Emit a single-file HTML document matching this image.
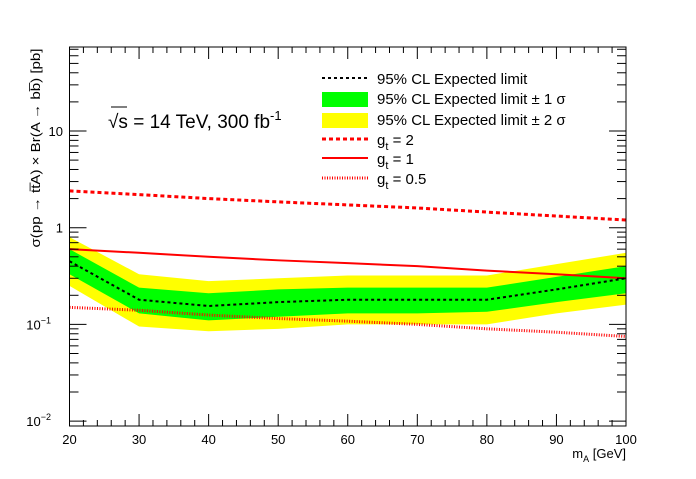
<!DOCTYPE html>
<html><head><meta charset="utf-8"><style>
body{margin:0;background:#fff}
svg text{font-family:"Liberation Sans",sans-serif}
</style></head><body>
<svg id="c" width="696" height="474" xmlns="http://www.w3.org/2000/svg">
<rect width="696" height="474" fill="#fff"/>
<g id="plot"></g>
<g id="axes"></g>
<g font-size="15">
<line x1="322" y1="78" x2="368" y2="78" stroke="#000" stroke-width="2" stroke-dasharray="3,3"/>
<text x="377" y="84">95% CL Expected limit</text>
<rect x="322" y="92" width="46" height="15" fill="#00ff00"/>
<text x="377" y="104">95% CL Expected limit ± 1 σ</text>
<rect x="322" y="113" width="46" height="15" fill="#ffff00"/>
<text x="377" y="125">95% CL Expected limit ± 2 σ</text>
<line x1="322" y1="139" x2="368" y2="139" stroke="#f00" stroke-width="3" stroke-dasharray="4,3"/>
<text x="377" y="145">g<tspan dy="5" font-size="11">t</tspan><tspan dy="-5"> = 2</tspan></text>
<line x1="322" y1="158" x2="368" y2="158" stroke="#f00" stroke-width="2"/>
<text x="377" y="164">g<tspan dy="5" font-size="11">t</tspan><tspan dy="-5"> = 1</tspan></text>
<line x1="322" y1="178" x2="368" y2="178" stroke="#f00" stroke-width="3" stroke-dasharray="1,1.5"/>
<text x="377" y="184">g<tspan dy="5" font-size="11">t</tspan><tspan dy="-5"> = 0.5</tspan></text>
</g>
<text x="108" y="128" font-size="19">√s = 14 TeV, 300 fb<tspan dy="-8" font-size="13">-1</tspan></text>
<line x1="111" y1="107" x2="127" y2="107" stroke="#000" stroke-width="1"/>
<text x="626" y="458" font-size="13" text-anchor="end">m<tspan dy="4" font-size="9">A</tspan><tspan dy="-4"> [GeV]</tspan></text>
<g transform="translate(40,148) rotate(-90)">
<text x="0" y="0" font-size="13" text-anchor="middle" textLength="199" lengthAdjust="spacingAndGlyphs">σ(pp → tt̅A) × Br(A → bb̅) [pb]</text>
</g>
</svg>
<script>
const masses=[20,30,40,50,60,70,80,90,100];
const expected=[0.45,0.18,0.155,0.17,0.18,0.18,0.18,0.23,0.3];
const up1=[0.6,0.24,0.21,0.23,0.24,0.24,0.24,0.31,0.4];
const dn1=[0.33,0.13,0.11,0.12,0.13,0.13,0.135,0.17,0.21];
const up2=[0.8,0.33,0.28,0.3,0.32,0.32,0.32,0.42,0.55];
const dn2=[0.25,0.095,0.085,0.09,0.1,0.1,0.1,0.13,0.16];
const gt2=[2.4,2.2,2.0,1.85,1.72,1.6,1.45,1.32,1.2];
const gt1=[0.6,0.55,0.5,0.46,0.43,0.4,0.36,0.33,0.3];
const gt05=[0.15,0.14,0.125,0.115,0.108,0.1,0.09,0.083,0.075];
const xTicks=[20,30,40,50,60,70,80,90,100];
const X0=69.5,X1=626,Y0=47,Y1=426;
const xs=v=>X0+(v-20)/80*(X1-X0);
const ys=v=>131+(1-Math.log10(v))*96.7;
const NS="http://www.w3.org/2000/svg";
function mk(t,a,p){const e=document.createElementNS(NS,t);for(const k in a)e.setAttribute(k,a[k]);p.appendChild(e);return e;}
const plot=document.getElementById('plot'),axes=document.getElementById('axes');
function band(u,d,fill,name){
 let pts=masses.map((m,i)=>xs(m)+','+ys(u[i]));
 pts=pts.concat(masses.map((m,i)=>xs(m)+','+ys(d[i])).reverse());
 const e=mk('polygon',{points:pts.join(' '),fill:fill},plot);
 
 
}
band(up2,dn2,'#ffff00','band-2sigma');
band(up1,dn1,'#00ff00','band-1sigma');
function line(v,st,w,da,name){
 const e=mk('polyline',{points:masses.map((m,i)=>xs(m)+','+ys(v[i])).join(' '),fill:'none',stroke:st,'stroke-width':w},plot);
 if(da)e.setAttribute('stroke-dasharray',da);
 
 
}
line(gt2,'#f00',3,'4,3','line-gt-2');
line(gt1,'#f00',2,null,'line-gt-1');
line(gt05,'#f00',3,'1,1.5','line-gt-0.5');
line(expected,'#000',2,'3,3','line-expected');
const fr=mk('rect',{x:X0,y:Y0,width:X1-X0,height:Y1-Y0,fill:'none',stroke:'#000','stroke-width':1},axes);


for(let v=20;v<=100;v+=2){
 const x=xs(v),big=v%10===0,l=big?12:6;
 mk('line',{x1:x,y1:Y1,x2:x,y2:Y1-l,stroke:'#000'},axes);
 mk('line',{x1:x,y1:Y0,x2:x,y2:Y0+l,stroke:'#000'},axes);
}
xTicks.forEach(v=>{const t=mk('text',{x:xs(v),y:444,'font-size':13,'text-anchor':'middle'},axes);t.textContent=v;
 
 });
for(let d=-2;d<=1;d++)for(let k=1;k<=9;k++){
 const v=k*Math.pow(10,d),y=ys(v);
 if(y<Y0||y>Y1)continue;
 const l=k===1?17:9;
 mk('line',{x1:X0,y1:y,x2:X0+l,y2:y,stroke:'#000'},axes);
 mk('line',{x1:X1,y1:y,x2:X1-l,y2:y,stroke:'#000'},axes);
}
const yl=[[10,'10'],[1,'1'],[0.1,'10<tspan dy="-6" font-size="9">−1</tspan>'],[0.01,'10<tspan dy="-6" font-size="9">−2</tspan>']];
yl.forEach(([v,s])=>{const t=mk('text',{x:v>=1?63:51,y:ys(v)+5,'font-size':13,'text-anchor':'end'},axes);t.innerHTML=s;
 
 });
</script>
</body></html>
